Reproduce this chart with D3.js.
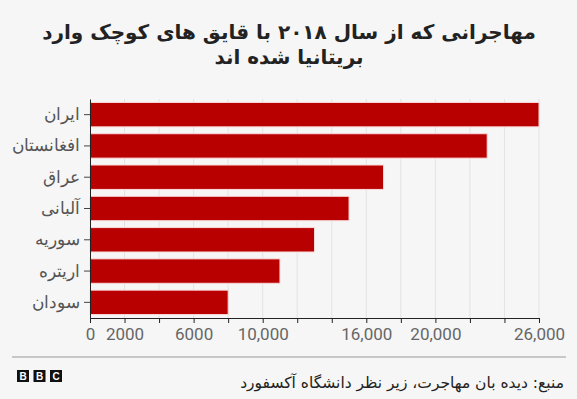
<!DOCTYPE html>
<html>
<head>
<meta charset="utf-8">
<script src="https://cdn.jsdelivr.net/npm/d3@7"></script>
<style>
  body { margin: 0; background: #f6f6f6; }
  svg { display: block; font-family: "DejaVu Sans", "Noto Sans", sans-serif; }
</style>
</head>
<body>
<div id="chart"></div>
<script>
const titleLines = ['مهاجرانی که از سال ۲۰۱۸ با قایق های کوچک وارد', 'بریتانیا شده اند'];
const countries = ['ایران', 'افغانستان', 'عراق', 'آلبانی', 'سوریه', 'اریتره', 'سودان'];
const migrants = [26000, 23000, 17000, 15000, 13000, 11000, 8000];
const gridTicks = d3.range(0, 26001, 2000);
const labelledTicks = [0, 2000, 6000, 10000, 16000, 20000, 26000];
const sourceText = 'منبع: دیده بان مهاجرت، زیر نظر دانشگاه آکسفورد';

const w = 577, h = 399;
const svg = d3.select('#chart').append('svg')
    .attr('width', w)
    .attr('height', h);

svg.append('rect').attr('width', w).attr('height', h).attr('fill', '#f6f6f6');

// title
svg.selectAll('text.title')
    .data(titleLines)
    .enter()
    .append('text')
    .attr('class', 'title')
    .attr('x', 289)
    .attr('y', (d, i) => 39 + i * 25)
    .attr('text-anchor', 'middle')
    .attr('direction', 'rtl')
    .attr('font-size', 20)
    .attr('font-weight', 'bold')
    .attr('fill', '#222')
    .text(d => d);

const x = d3.scaleLinear().domain([0, 26000]).range([90, 539]);
const y = d3.scaleBand().domain(countries).range([99, 318])
    .paddingInner(0.22).paddingOuter(0.11);

// grid lines
svg.append('g')
    .selectAll('line')
    .data(gridTicks.slice(1))
    .enter()
    .append('line')
    .attr('x1', d => x(d))
    .attr('x2', d => x(d))
    .attr('y1', 99)
    .attr('y2', 318)
    .attr('stroke', '#e3e3e3')
    .attr('stroke-width', 1);

// bars
svg.append('g')
    .selectAll('rect')
    .data(countries)
    .enter()
    .append('rect')
    .attr('x', x(0))
    .attr('y', d => y(d))
    .attr('width', (d, i) => x(migrants[i]) - x(0))
    .attr('height', y.bandwidth())
    .attr('fill', '#b80000')
    .attr('stroke', '#fbdada')
    .attr('stroke-width', 1);

// x axis
const xAxis = svg.append('g')
    .attr('transform', 'translate(0,318)')
    .call(d3.axisBottom(x).tickValues(gridTicks).tickSize(5)
        .tickFormat(d => labelledTicks.includes(d) ? (d >= 10000 ? d3.format(',')(d) : d) : ''));
xAxis.select('.domain').attr('stroke', '#222');
xAxis.selectAll('.tick line').attr('stroke', '#222');
xAxis.selectAll('.tick text')
    .attr('font-size', 17)
    .attr('fill', '#666')
    .attr('dy', '0.8em')
    .attr('font-family', 'Roboto, "Open Sans", sans-serif');

// y axis
const yAxis = svg.append('g')
    .attr('transform', 'translate(90,0)')
    .call(d3.axisLeft(y).tickSize(6).tickSizeOuter(0).tickPadding(4));
yAxis.select('.domain').attr('stroke', '#222');
yAxis.selectAll('.tick line').attr('stroke', '#444');
yAxis.selectAll('.tick text')
    .attr('font-size', 17)
    .attr('fill', '#555');

// footer
svg.append('line')
    .attr('x1', 12).attr('x2', 566)
    .attr('y1', 357).attr('y2', 357)
    .attr('stroke', '#999');

svg.append('text')
    .attr('x', 564)
    .attr('y', 388)
    .attr('text-anchor', 'start')
    .attr('direction', 'rtl')
    .attr('font-size', 15.5)
    .attr('fill', '#222')
    .text(sourceText);

const logo = svg.append('g').attr('transform', 'translate(17,370)');
logo.selectAll('rect')
    .data(['B', 'B', 'C'])
    .enter()
    .append('rect')
    .attr('x', (d, i) => i * 16.5)
    .attr('width', 12)
    .attr('height', 12)
    .attr('fill', '#111');
logo.selectAll('text')
    .data(['B', 'B', 'C'])
    .enter()
    .append('text')
    .attr('x', (d, i) => i * 16.5 + 6)
    .attr('y', 10)
    .attr('text-anchor', 'middle')
    .attr('font-size', 10)
    .attr('font-weight', 'bold')
    .attr('font-family', 'Arial, "Liberation Sans", sans-serif')
    .attr('fill', '#fff')
    .text(d => d);
</script>
</body>
</html>
